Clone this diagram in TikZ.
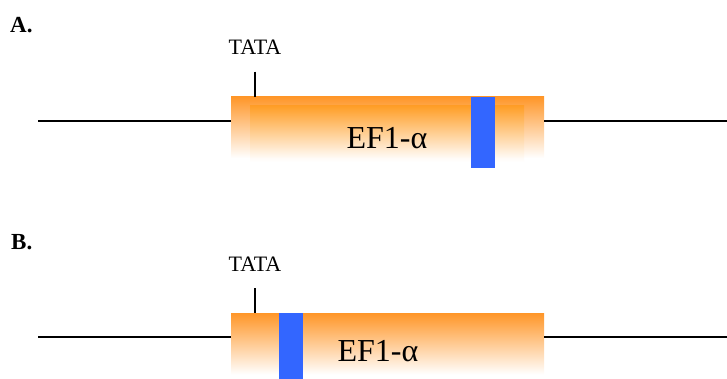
\documentclass[tikz,border=0pt]{standalone}
\usepackage{fontspec}
\setmainfont{Liberation Serif}
\definecolor{geneorange}{RGB}{255,150,40}
\definecolor{innerorange}{RGB}{255,150,0}
\definecolor{barblue}{RGB}{51,102,255}
\pgfdeclareverticalshading{genefade}{100bp}{color(0bp)=(white); color(25bp)=(white); color(32bp)=(white); color(75bp)=(geneorange); color(100bp)=(geneorange)}
\pgfdeclareverticalshading{innerfade}{100bp}{color(0bp)=(white); color(25bp)=(white); color(30bp)=(white); color(75bp)=(innerorange); color(100bp)=(innerorange)}
\begin{document}
\begin{tikzpicture}[x=1pt,y=-1pt,
  gene/.style={rectangle, inner sep=0pt, outer sep=0pt, shading=genefade, minimum width=313pt, minimum height=71.5pt},
  inner/.style={rectangle, inner sep=0pt, outer sep=0pt, shading=innerfade, fill opacity=0.45, minimum width=274pt, minimum height=62pt},
  bar/.style={rectangle, fill=barblue, inner sep=0pt, outer sep=0pt, minimum width=24pt, minimum height=71.5pt},
  dna/.style={line width=1.6pt},
  tick/.style={line width=1.4pt},
  panel/.style={font=\bfseries\fontsize{23}{26}\selectfont, anchor=base west, inner sep=0pt},
  tata/.style={font=\fontsize{22}{26}\selectfont, anchor=base, inner sep=0pt},
  genelabel/.style={font=\fontsize{32}{36}\selectfont, anchor=base, inner sep=0pt}]
\useasboundingbox (0,0) rectangle (727,379);
\clip (0,0) rectangle (727,379);
% Panel A
\node[panel] (labA) at (10,33) {A.};
\node[gene] (geneA) at (387.5,132.4) {};
\node[inner, anchor=north west] (innerA) at (250,106) {};
\node[bar, anchor=north west] (barA) at (471,96.7) {};
\node[genelabel] (txtA) at (387,148.3) {EF1-α};
\node[tata] (tataA) at (255,55) {TATA};
\coordinate (tickA) at (255,71.7);
\draw[tick] (tickA) -- (tickA |- geneA.north);
\coordinate (lineAl) at (38,120.8);
\coordinate (lineAr) at (727,120.8);
\draw[dna] (lineAl) -- (lineAl -| geneA.west);
\draw[dna] (geneA.east |- lineAr) -- (lineAr);
% Panel B
\node[panel] (labB) at (11,249.3) {B.};
\node[gene, anchor=north west] (geneB) at (231,313) {};
\node[bar, anchor=north west] (barB) at (279,313) {};
\node[genelabel] (txtB) at (378,361.7) {EF1-α};
\node[tata] (tataB) at (255,271.7) {TATA};
\coordinate (tickB) at (255,288);
\draw[tick] (tickB) -- (tickB |- geneB.north);
\coordinate (lineBl) at (38,337);
\coordinate (lineBr) at (727,337);
\draw[dna] (lineBl) -- (lineBl -| geneB.west);
\draw[dna] (geneB.east |- lineBr) -- (lineBr);
\end{tikzpicture}
\end{document}
